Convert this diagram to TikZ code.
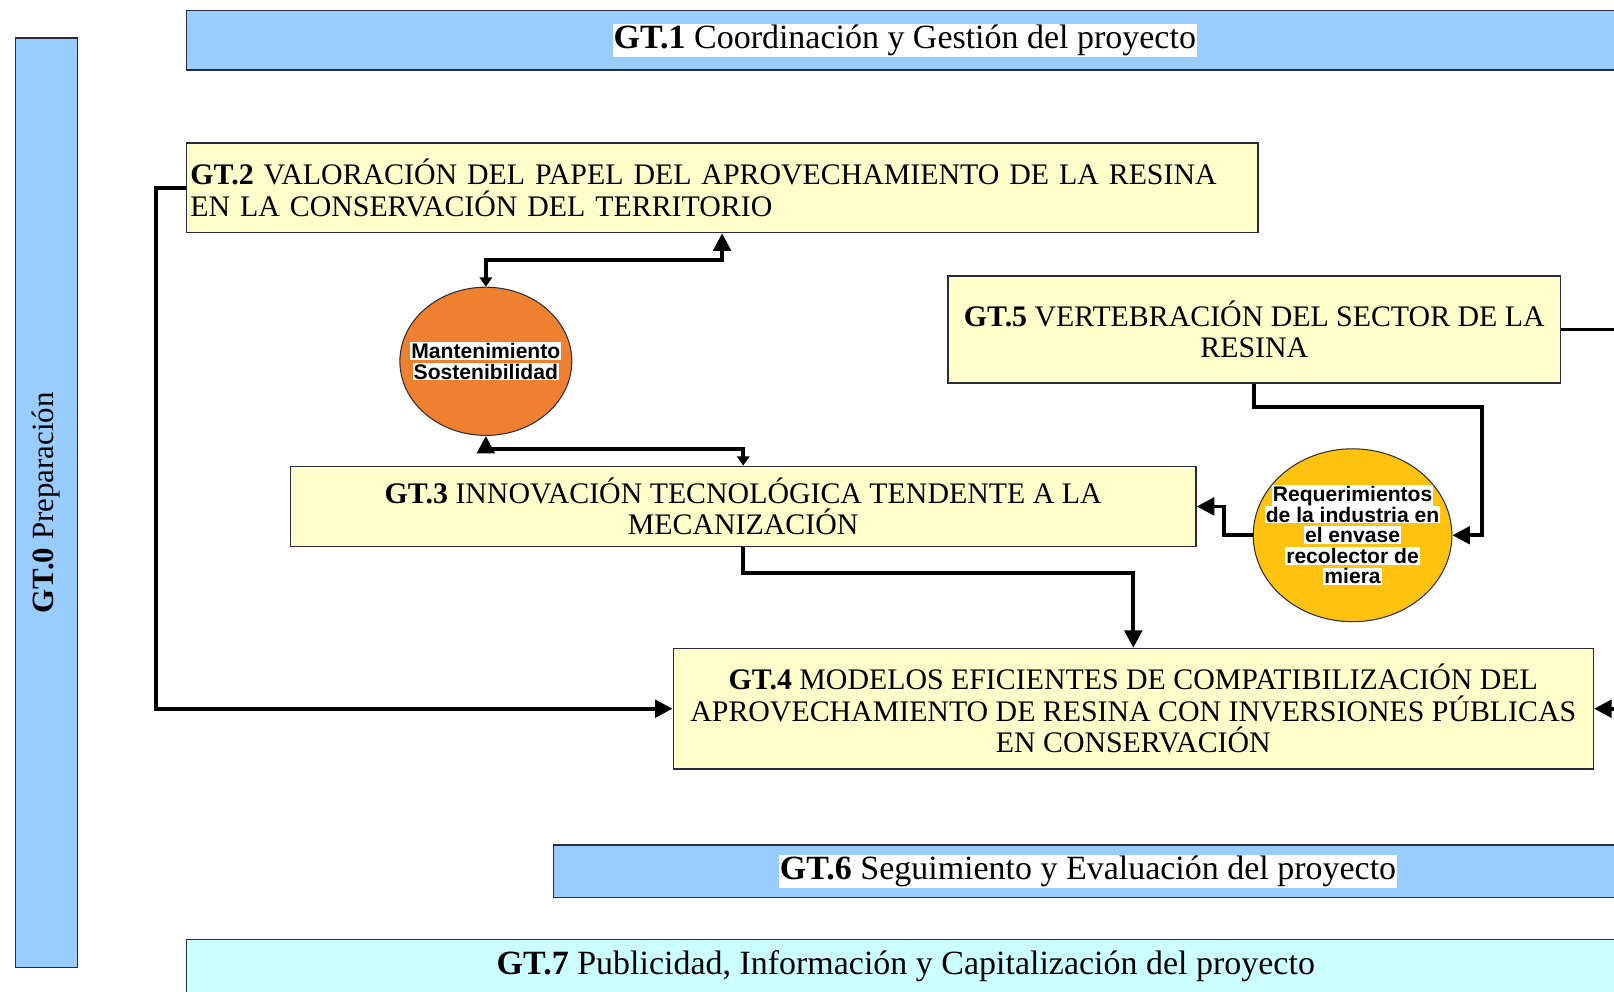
\documentclass[tikz,border=0pt]{standalone}
\usepackage{fontspec}
\setmainfont{Liberation Serif}
\newfontfamily\arialf{Liberation Sans}
\usetikzlibrary{arrows.meta,shapes.geometric,calc}
\definecolor{boxblue}{HTML}{99CCFF}
\definecolor{boxcyan}{HTML}{CCFFFF}
\definecolor{boxyellow}{HTML}{FFFFCC}
\definecolor{orangec}{HTML}{EF8030}
\definecolor{goldc}{HTML}{FFC20E}
\definecolor{edgec}{HTML}{2B2B3A}
\newcommand\hlw[1]{{\setlength{\fboxsep}{1pt}\colorbox{white}{#1}}}
\begin{document}
\begin{tikzpicture}[x=1pt,y=-1pt,
  gtbox/.style={draw=edgec, line width=1.3pt, inner sep=0pt, align=center},
  bluebox/.style={gtbox, fill=boxblue, font=\fontsize{33}{36}\selectfont},
  cyanbox/.style={gtbox, fill=boxcyan, font=\fontsize{33}{36}\selectfont},
  yellowbox/.style={gtbox, fill=boxyellow, font=\fontsize{29}{30.5}\selectfont},
  bubble/.style={ellipse, draw=edgec, line width=1pt, inner sep=0pt},
  bubbletext/.style={align=center, inner sep=0pt, font=\arialf\bfseries\fontsize{20.5}{22}\selectfont},
  conn/.style={line width=3.6pt, black, line join=miter},
  bigtip/.tip={Triangle[length=17pt,width=17pt]},
  smalltip/.tip={Triangle[length=9pt,width=12pt]}
]
\useasboundingbox (0,0) rectangle (1568,963);
\clip (0,0) rectangle (1568,963);
\fill[white] (0,0) rectangle (1568,963);

% GT.0 vertical bar
\node[bluebox, rotate=90, minimum width=903, minimum height=60,
      font=\fontsize{30}{32}\selectfont] (gt0) at (45,488.5) {\textbf{GT.0} Preparación};

% GT.1
\node[bluebox, minimum width=1396, minimum height=58] (gt1) at (879,39)
  {\raisebox{-2.5pt}{\hlw{\textbf{GT.1} Coordinación y Gestión del proyecto}}};

% GT.2
\node[yellowbox, minimum width=1041, minimum height=87, text width=1033pt,
      inner xsep=4pt, align=left] (gt2) at (701.5,182.5)
  {\textbf{GT.2} VALORACIÓN DEL PAPEL DEL APROVECHAMIENTO DE LA RESINA\\EN LA CONSERVACIÓN DEL TERRITORIO};

% GT.5
\node[yellowbox, minimum width=595, minimum height=104] (gt5) at (1218.5,320)
  {\textbf{GT.5} VERTEBRACIÓN DEL SECTOR DE LA\\RESINA};

% GT.3
\node[yellowbox, minimum width=880, minimum height=78] (gt3) at (722,492)
  {\textbf{GT.3} INNOVACIÓN TECNOLÓGICA TENDENTE A LA\\MECANIZACIÓN};

% GT.4
\node[yellowbox, minimum width=894, minimum height=117] (gt4) at (1101,688.5)
  {\textbf{GT.4} MODELOS EFICIENTES DE COMPATIBILIZACIÓN DEL\\APROVECHAMIENTO DE RESINA CON INVERSIONES PÚBLICAS\\EN CONSERVACIÓN};

% GT.6
\node[bluebox, minimum width=1038, minimum height=51] (gt6) at (1057,846.5)
  {\raisebox{-3pt}{\hlw{\textbf{GT.6} Seguimiento y Evaluación del proyecto}}};

% GT.7
\node[cyanbox, minimum width=1398, minimum height=52] (gt7) at (880,939)
  {\raisebox{-4pt}{\textbf{GT.7} Publicidad, Información y Capitalización del proyecto}};

% bubbles
\node[bubble, fill=orangec, minimum width=167, minimum height=144,
      label={[bubbletext]center:\hlw{Mantenimiento}\\[-2pt]\hlw{Sostenibilidad}}] (mant) at (472,351) {};
\node[bubble, fill=goldc, minimum width=193, minimum height=168,
      label={[bubbletext]center:\hlw{Requerimientos}\\[-2pt]\hlw{de la industria en}\\[-2pt]\hlw{el envase}\\[-2pt]\hlw{recolector de}\\[-2pt]\hlw{miera}}] (req) at (1314,520) {};

% connectors
\coordinate (r5) at ($(gt5.east)+(80,0)$);
\coordinate (r4) at ($(gt4.east)+(60,0)$);

\draw[conn, -{bigtip}] (gt2.west) -- ++(-29,0) |- (gt4.west);
\draw[conn, {smalltip}-{bigtip}] (mant.north) -- ++(0,-26) -| (gt2.south);
\draw[conn, {smalltip}-{bigtip}] (gt3.north) -- ++(0,-16) -| (mant.south);
\draw[conn, -{bigtip}] (gt3.south) -- ++(0,25) -| (gt4.north);
\draw[conn, -{bigtip}] (gt5.south) -- ++(0,23) -| ($(req.east)+(29,0)$) -- (req.east);
\draw[conn, -{bigtip}] (req.west) -- ++(-28,0) |- (gt3.east);
\draw[conn] (gt5.east) -- (r5);
\draw[conn, -{bigtip}] (r4) -- (gt4.east);
\end{tikzpicture}
\end{document}
